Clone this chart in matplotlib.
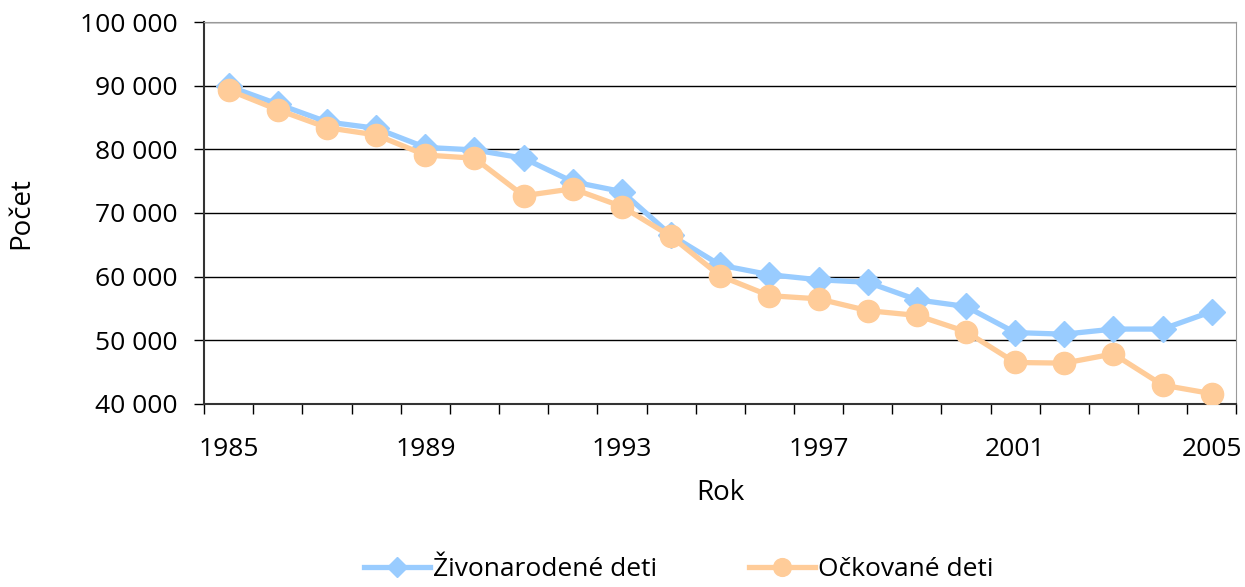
import matplotlib
matplotlib.use("Agg")
import matplotlib.pyplot as plt
from matplotlib.ticker import FuncFormatter, FixedLocator

plt.rcParams['font.family'] = ['Open Sans', 'DejaVu Sans']

roky = list(range(1985, 2006))
zivonarodene = [89900, 87100, 84300, 83300, 80300, 79900, 78600, 74900, 73350, 66500,
                61800, 60300, 59500, 59100, 56350, 55300, 51200, 50950, 51750, 51750, 54500]
ockovane = [89300, 86200, 83400, 82250, 79100, 78600, 72700, 73800, 71000, 66300,
            60100, 57000, 56500, 54650, 53900, 51350, 46500, 46400, 47850, 42950, 41600]
oznacene_roky = [1985, 1989, 1993, 1997, 2001, 2005]

MODRA = '#99CCFF'
ORANZOVA = '#FFCC99'

fig = plt.figure(figsize=(12.45, 5.87), dpi=100)
ax = fig.add_axes([0.164, 0.312, 0.829, 0.6505])

x = list(range(len(roky)))
ax.plot(x, zivonarodene, color=MODRA, lw=3.8, marker='D', ms=13,
        label='Živonarodené deti', zorder=3)
ax.plot(x, ockovane, color=ORANZOVA, lw=3.8, marker='o', ms=16,
        label='Očkované deti', zorder=4)

ax.set_ylim(40000, 100000)
ax.set_xlim(-0.5, len(roky) - 0.5)
ax.set_yticks(range(40000, 100001, 10000))
ax.yaxis.set_major_formatter(FuncFormatter(lambda v, p: f'{int(v):,}'.replace(',', ' ')))
ax.grid(axis='y', color='black', lw=1)
ax.set_axisbelow(True)

# popisky rokov pod bodmi, ciarky medzi kategoriami
ax.set_xticks([roky.index(r) for r in oznacene_roky])
ax.set_xticklabels([str(r) for r in oznacene_roky])
ax.xaxis.set_minor_locator(FixedLocator([i - 0.5 for i in range(len(roky) + 1)]))
ax.tick_params(axis='x', which='major', length=0, pad=24, labelsize=19)
ax.tick_params(axis='x', which='minor', length=7, width=1, direction='out')
ax.tick_params(axis='y', length=7, width=1, direction='out', labelsize=19, pad=12)

for s in ['left', 'bottom']:
    ax.spines[s].set_color('#333333')
    ax.spines[s].set_linewidth(1.5)
ax.spines['right'].set_color('#999999')
ax.spines['top'].set_color('#999999')

ax.set_xlabel('Rok', fontsize=20, labelpad=12)
ax.set_ylabel('Počet', fontsize=20, labelpad=32)

fig.legend(loc='lower center', ncol=2, frameon=False, fontsize=19,
           bbox_to_anchor=(0.545, -0.032), handlelength=2.5, columnspacing=3.5,
           handletextpad=0.1, markerscale=0.8)

fig.savefig('out.png', dpi=100)
